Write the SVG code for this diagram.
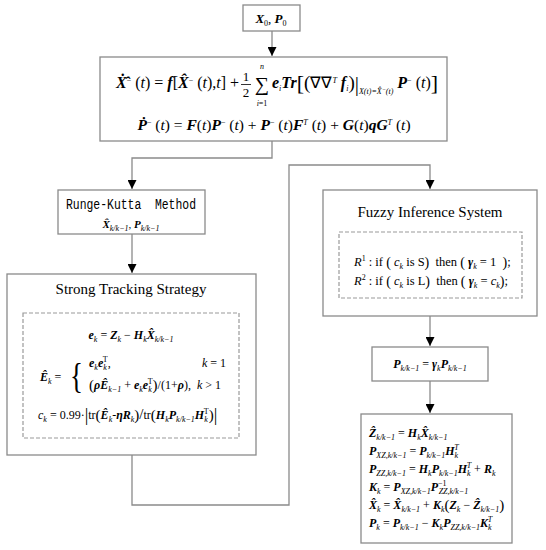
<svg xmlns="http://www.w3.org/2000/svg" width="546" height="550" viewBox="0 0 546 550">
<defs>
<style>
.box{fill:#fff;stroke:#8a8a8a;stroke-width:1.3}
.dash{fill:none;stroke:#9a9a9a;stroke-width:1.2;stroke-dasharray:4 2}
.ln{fill:none;stroke:#8a8a8a;stroke-width:1.3}
text{font-family:"Liberation Serif","Times New Roman",serif;fill:#000}
.b{font-weight:bold;font-style:italic}
.i{font-style:italic}
.sb{font-size:8px;baseline-shift:-3px}
.sp{font-size:8px;baseline-shift:5px}
.mono{font-family:"Liberation Mono","Courier New",monospace}
</style>
<marker id="ar" viewBox="0 0 10 10" refX="10" refY="5" markerWidth="9" markerHeight="9" markerUnits="userSpaceOnUse" orient="auto">
<path d="M0,0 L10,5 L0,10 z" fill="#000"/>
</marker>
</defs>

<g id="connectors">
<path class="ln" d="M272,31 V56" marker-end="url(#ar)"/>
<path class="ln" d="M272,141 V158 H132 V189" marker-end="url(#ar)"/>
<path class="ln" d="M132,234 V273" marker-end="url(#ar)"/>
<path class="ln" d="M132,455 V505 H289 V165 H430 V189" marker-end="url(#ar)"/>
<path class="ln" d="M430,316 V346" marker-end="url(#ar)"/>
<path class="ln" d="M430,381 V413" marker-end="url(#ar)"/>
</g>

<g id="start">
<rect class="box" x="243" y="5" width="57" height="26"/>
<text x="271" y="23" font-size="13" text-anchor="middle"><tspan class="b">X</tspan><tspan class="sb">0</tspan>, <tspan class="b">P</tspan><tspan class="sb">0</tspan></text>
</g>

<g id="prediction">
<rect class="box" x="100" y="57" width="347" height="84"/>
<text x="116" y="88" font-size="16"><tspan class="b">Ẋ̂</tspan><tspan class="sp">−</tspan> (<tspan class="i">t</tspan>) = <tspan class="b">f</tspan>[<tspan class="b">X̂</tspan><tspan class="sp">−</tspan> (<tspan class="i">t</tspan>),<tspan class="i">t</tspan>] +</text>
<text x="246" y="81" font-size="13" text-anchor="middle">1</text>
<line x1="241" y1="84.5" x2="251" y2="84.5" stroke="#000" stroke-width="0.8"/>
<text x="246" y="97" font-size="13" text-anchor="middle">2</text>
<text x="262" y="69" font-size="8" text-anchor="middle" class="i">n</text>
<text x="262" y="91" font-size="20" text-anchor="middle">∑</text>
<text x="262" y="106" font-size="8" text-anchor="middle"><tspan class="i">i</tspan>=1</text>
<text x="272" y="88" font-size="16"><tspan class="b">e</tspan><tspan class="sb i">i</tspan><tspan class="b">Tr</tspan><tspan font-size="22" style="baseline-shift:-2px">[</tspan><tspan font-size="19" style="baseline-shift:-1px">(</tspan>∇∇<tspan class="sp i">T</tspan> <tspan class="b">f</tspan><tspan class="sb i">i</tspan><tspan font-size="19" style="baseline-shift:-1px">)</tspan><tspan font-size="21" style="baseline-shift:-3px">|</tspan><tspan font-size="8" class="i" style="baseline-shift:-6px">X(t)=X̂<tspan font-size="6" style="baseline-shift:3px">−</tspan>(t)</tspan> <tspan class="b">P</tspan><tspan class="sp">−</tspan> (<tspan class="i">t</tspan>)<tspan font-size="22" style="baseline-shift:-2px">]</tspan></text>
<text x="274" y="130" font-size="15.5" text-anchor="middle"><tspan class="b">Ṗ</tspan><tspan class="sp">−</tspan> (<tspan class="i">t</tspan>) = <tspan class="b">F</tspan>(<tspan class="i">t</tspan>)<tspan class="b">P</tspan><tspan class="sp">−</tspan> (<tspan class="i">t</tspan>) + <tspan class="b">P</tspan><tspan class="sp">−</tspan> (<tspan class="i">t</tspan>)<tspan class="b">F</tspan><tspan class="sp i">T</tspan> (<tspan class="i">t</tspan>) + <tspan class="b">G</tspan>(<tspan class="i">t</tspan>)<tspan class="b">qG</tspan><tspan class="sp i">T</tspan> (<tspan class="i">t</tspan>)</text>
</g>

<g id="runge-kutta">
<rect class="box" x="58" y="190" width="147" height="44"/>
<text x="131" y="209" font-size="14" text-anchor="middle" class="mono" textLength="130" lengthAdjust="spacingAndGlyphs">Runge-Kutta&#160; Method</text>
<text x="131" y="228" font-size="11" text-anchor="middle"><tspan class="b">X̂</tspan><tspan class="sb i" font-size="6">k/k−1</tspan>, <tspan class="b">P</tspan><tspan class="sb i" font-size="6">k/k−1</tspan></text>
</g>

<g id="strong-tracking">
<rect class="box" x="7" y="274" width="249" height="181"/>
<text x="131" y="294" font-size="15" text-anchor="middle">Strong Tracking Strategy</text>
<rect class="dash" x="23" y="313" width="216" height="125"/>
<text x="131" y="339" font-size="12" text-anchor="middle"><tspan class="b">e</tspan><tspan class="sb i">k</tspan> = <tspan class="b">Z</tspan><tspan class="sb i">k</tspan> − <tspan class="b">H</tspan><tspan class="sb i">k</tspan><tspan class="b">X̂</tspan><tspan class="sb i">k/k−1</tspan></text>
<text x="40" y="381" font-size="12"><tspan class="b">Ê</tspan><tspan class="sb i">k</tspan> =</text>
<text x="70" y="388" font-size="36" transform="translate(70,388) scale(0.75,1) translate(-70,-388)">{</text>
<text x="89" y="367" font-size="12"><tspan class="b">e</tspan><tspan class="sb i">k</tspan><tspan class="b">e</tspan><tspan class="sb i">k</tspan><tspan class="sp" dx="-4">T</tspan>,</text>
<text x="226" y="367" font-size="12" text-anchor="end"><tspan class="i">k</tspan> = 1</text>
<text x="89" y="389" font-size="12"><tspan font-size="15" style="baseline-shift:-1px">(</tspan><tspan class="b">ρÊ</tspan><tspan class="sb i">k−1</tspan> + <tspan class="b">e</tspan><tspan class="sb i">k</tspan><tspan class="b">e</tspan><tspan class="sb i">k</tspan><tspan class="sp" dx="-4">T</tspan><tspan font-size="15" style="baseline-shift:-1px">)</tspan>/(1+<tspan class="b">ρ</tspan>),&#160; <tspan class="i">k</tspan> &gt; 1</text>
<text x="38" y="419" font-size="12"><tspan class="i">c</tspan><tspan class="sb i">k</tspan> = 0.99·<tspan font-size="18" style="baseline-shift:-2px">|</tspan>tr<tspan font-size="15" style="baseline-shift:-1px">(</tspan><tspan class="b">Ê</tspan><tspan class="sb i">k</tspan>-<tspan class="b">ηR</tspan><tspan class="sb i">k</tspan><tspan font-size="15" style="baseline-shift:-1px">)</tspan><tspan font-size="15">/</tspan>tr<tspan font-size="15" style="baseline-shift:-1px">(</tspan><tspan class="b">H</tspan><tspan class="sb i">k</tspan><tspan class="b">P</tspan><tspan class="sb i">k/k−1</tspan><tspan class="b">H</tspan><tspan class="sb i">k</tspan><tspan class="sp" dx="-4">T</tspan><tspan font-size="15" style="baseline-shift:-1px">)</tspan><tspan font-size="18" style="baseline-shift:-2px">|</tspan></text>
</g>

<g id="fuzzy">
<rect class="box" x="323" y="190" width="214" height="126"/>
<text x="430" y="217" font-size="15" text-anchor="middle">Fuzzy Inference System</text>
<rect class="dash" x="339" y="232" width="183" height="66"/>
<text x="354" y="266" font-size="12.5"><tspan class="i">R</tspan><tspan class="sp">1</tspan> : if <tspan font-size="14" style="baseline-shift:-1px">(</tspan> <tspan class="i">c</tspan><tspan class="sb i">k</tspan> is S<tspan font-size="14" style="baseline-shift:-1px">)</tspan>&#160; then <tspan font-size="14" style="baseline-shift:-1px">(</tspan> <tspan class="b">γ</tspan><tspan class="sb i">k</tspan> = 1&#160; <tspan font-size="14" style="baseline-shift:-1px">)</tspan>;</text>
<text x="354" y="285" font-size="12.5"><tspan class="i">R</tspan><tspan class="sp">2</tspan> : if <tspan font-size="14" style="baseline-shift:-1px">(</tspan> <tspan class="i">c</tspan><tspan class="sb i">k</tspan> is L<tspan font-size="14" style="baseline-shift:-1px">)</tspan>&#160; then <tspan font-size="14" style="baseline-shift:-1px">(</tspan> <tspan class="b">γ</tspan><tspan class="sb i">k</tspan> = <tspan class="i">c</tspan><tspan class="sb i">k</tspan><tspan font-size="14" style="baseline-shift:-1px">)</tspan>;</text>
</g>

<g id="scaling">
<rect class="box" x="372" y="347" width="116" height="34"/>
<text x="430" y="368" font-size="12" text-anchor="middle"><tspan class="b">P</tspan><tspan class="sb i">k/k−1</tspan> = <tspan class="b">γ</tspan><tspan class="sb i">k</tspan><tspan class="b">P</tspan><tspan class="sb i">k/k−1</tspan></text>
</g>

<g id="update">
<rect class="box" x="361" y="414" width="151" height="129"/>
<text x="369" y="437" font-size="12"><tspan class="b">Ẑ</tspan><tspan class="sb i">k/k−1</tspan> = <tspan class="b">H</tspan><tspan class="sb i">k</tspan><tspan class="b">X̂</tspan><tspan class="sb i">k/k−1</tspan></text>
<text x="369" y="455" font-size="12"><tspan class="b">P</tspan><tspan class="sb i">XZ,k/k−1</tspan> = <tspan class="b">P</tspan><tspan class="sb i">k/k−1</tspan><tspan class="b">H</tspan><tspan class="sb i">k</tspan><tspan class="sp i" dx="-4">T</tspan></text>
<text x="369" y="473" font-size="12"><tspan class="b">P</tspan><tspan class="sb i">ZZ,k/k−1</tspan> = <tspan class="b">H</tspan><tspan class="sb i">k</tspan><tspan class="b">P</tspan><tspan class="sb i">k/k−1</tspan><tspan class="b">H</tspan><tspan class="sb i">k</tspan><tspan class="sp i" dx="-4">T</tspan> + <tspan class="b">R</tspan><tspan class="sb i">k</tspan></text>
<text x="369" y="491" font-size="12"><tspan class="b">K</tspan><tspan class="sb i">k</tspan> = <tspan class="b">P</tspan><tspan class="sb i">XZ,k/k−1</tspan><tspan class="b">P</tspan><tspan class="sp">−1</tspan><tspan class="sb i" dx="-8">ZZ,k/k−1</tspan></text>
<text x="369" y="509" font-size="12"><tspan class="b">X̂</tspan><tspan class="sb i">k</tspan> = <tspan class="b">X̂</tspan><tspan class="sb i">k/k−1</tspan> + <tspan class="b">K</tspan><tspan class="sb i">k</tspan><tspan font-size="15" style="baseline-shift:-1px">(</tspan><tspan class="b">Z</tspan><tspan class="sb i">k</tspan> − <tspan class="b">Ẑ</tspan><tspan class="sb i">k/k−1</tspan><tspan font-size="15" style="baseline-shift:-1px">)</tspan></text>
<text x="369" y="527" font-size="12"><tspan class="b">P</tspan><tspan class="sb i">k</tspan> = <tspan class="b">P</tspan><tspan class="sb i">k/k−1</tspan> − <tspan class="b">K</tspan><tspan class="sb i">k</tspan><tspan class="b">P</tspan><tspan class="sb i">ZZ,k/k−1</tspan><tspan class="b">K</tspan><tspan class="sb i">k</tspan><tspan class="sp i" dx="-4">T</tspan></text>
</g>
</svg>
